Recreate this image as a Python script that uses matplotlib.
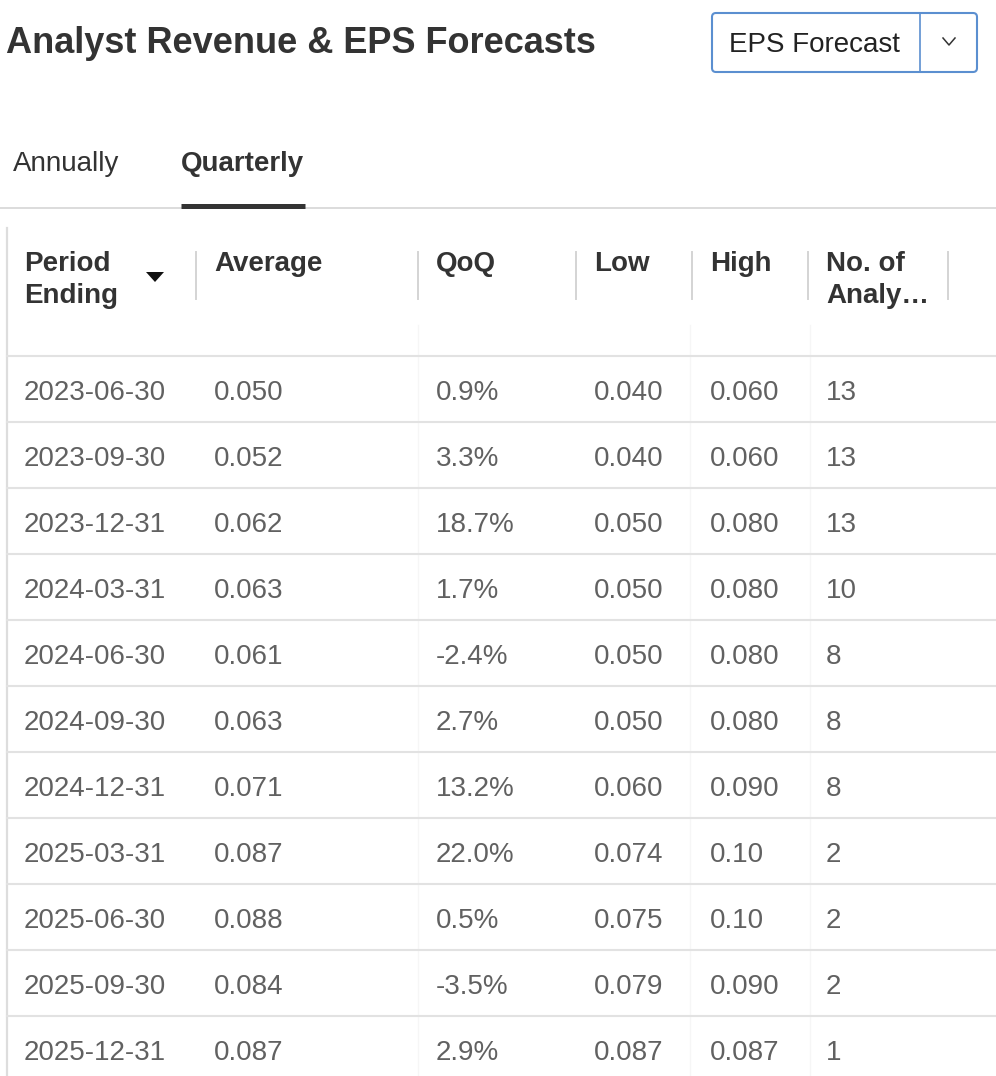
import matplotlib
matplotlib.use('Agg')
from matplotlib import pyplot as plt
from matplotlib.patches import FancyBboxPatch, Polygon

# table contents
periods = ['2023-06-30', '2023-09-30', '2023-12-31', '2024-03-31', '2024-06-30',
           '2024-09-30', '2024-12-31', '2025-03-31', '2025-06-30', '2025-09-30',
           '2025-12-31']
average = [0.050, 0.052, 0.062, 0.063, 0.061, 0.063, 0.071, 0.087, 0.088, 0.084, 0.087]
qoq = [0.9, 3.3, 18.7, 1.7, -2.4, 2.7, 13.2, 22.0, 0.5, -3.5, 2.9]
low = [0.040, 0.040, 0.050, 0.050, 0.050, 0.050, 0.060, 0.074, 0.075, 0.079, 0.087]
high = [0.060, 0.060, 0.080, 0.080, 0.080, 0.080, 0.090, 0.10, 0.10, 0.090, 0.087]
analysts = [13, 13, 13, 10, 8, 8, 8, 2, 2, 2, 1]

headers = [['Period', 'Ending'], ['Average'], ['QoQ'], ['Low'], ['High'],
           ['No. of', 'Analy\u2026']]
tabs = ['Annually', 'Quarterly']
title = 'Analyst Revenue & EPS Forecasts'
dropdown = 'EPS Forecast'

col_x = [24, 214, 436, 594, 710, 826]       # left edge of each column's text
sep_x = [196, 418, 576, 692, 808, 948]      # header separators
row_top = 356
row_h = 66

dark = '#333333'
body = '#616161'
line = '#e2e2e2'

plt.rcParams['font.family'] = ['Liberation Sans', 'DejaVu Sans']

def fmt(v):
    # values under 0.1 shown with three decimals, otherwise two
    return '%.3f' % v if v < 0.1 else '%.2f' % v

fig = plt.figure(figsize=(9.96, 10.76), dpi=100)
ax = fig.add_axes([0, 0, 1, 1])
ax.set_xlim(0, 996)
ax.set_ylim(1076, 0)
ax.axis('off')

# title and dropdown
ax.text(6, 53, title, fontsize=26, fontweight='bold', color=dark, va='baseline')
box = FancyBboxPatch((712, 13), 265, 59, boxstyle='round,pad=0,rounding_size=4',
                     fc='white', ec='#5b8fd0', lw=1.5)
ax.add_patch(box)
ax.plot([920, 920], [13, 72], color='#5b8fd0', lw=1.2)
ax.text(729, 52, dropdown, fontsize=20, color='#222222', va='baseline')
ax.plot([943, 949, 955], [38, 45, 38], color='#333333', lw=1.1)

# tabs
ax.text(13, 171, tabs[0], fontsize=20, color=dark, va='baseline')
ax.text(181, 171, tabs[1], fontsize=20, fontweight='bold', color=dark, va='baseline')
ax.plot([0, 996], [207.5, 207.5], color='#dcdcdc', lw=1.4)
ax.plot([181, 305], [205.5, 205.5], color='#333333', lw=3.6, solid_capstyle='butt')

# table left border
ax.plot([7, 7], [228, 1076], color='#dddddd', lw=1.6)

# header
for i, h in enumerate(headers):
    for k, part in enumerate(h):
        ax.text(col_x[i], 271 + 32 * k, part, fontsize=20, fontweight='bold',
                color=dark, va='baseline')
for x in sep_x:
    ax.plot([x, x], [252, 299], color='#d4d4d4', lw=1.4)
ax.add_patch(Polygon([[146, 272], [164, 272], [155, 282]], closed=True,
                     fc='#111111', ec='none'))

# faint column guides in body
for x in [418, 690, 810]:
    ax.plot([x, x], [325, 1076], color='#f6f6f6', lw=1.0)

# body rows
for r in range(len(periods)):
    y0 = row_top + r * row_h
    ax.plot([7, 996], [y0, y0], color=line, lw=1.5)
    base = y0 + 44
    cells = [periods[r], fmt(average[r]), '%.1f%%' % qoq[r],
             fmt(low[r]), fmt(high[r]), str(analysts[r])]
    for i, c in enumerate(cells):
        ax.text(col_x[i], base, c, fontsize=20, color=body, va='baseline')

fig.savefig('out.png', dpi=100, facecolor='white')
